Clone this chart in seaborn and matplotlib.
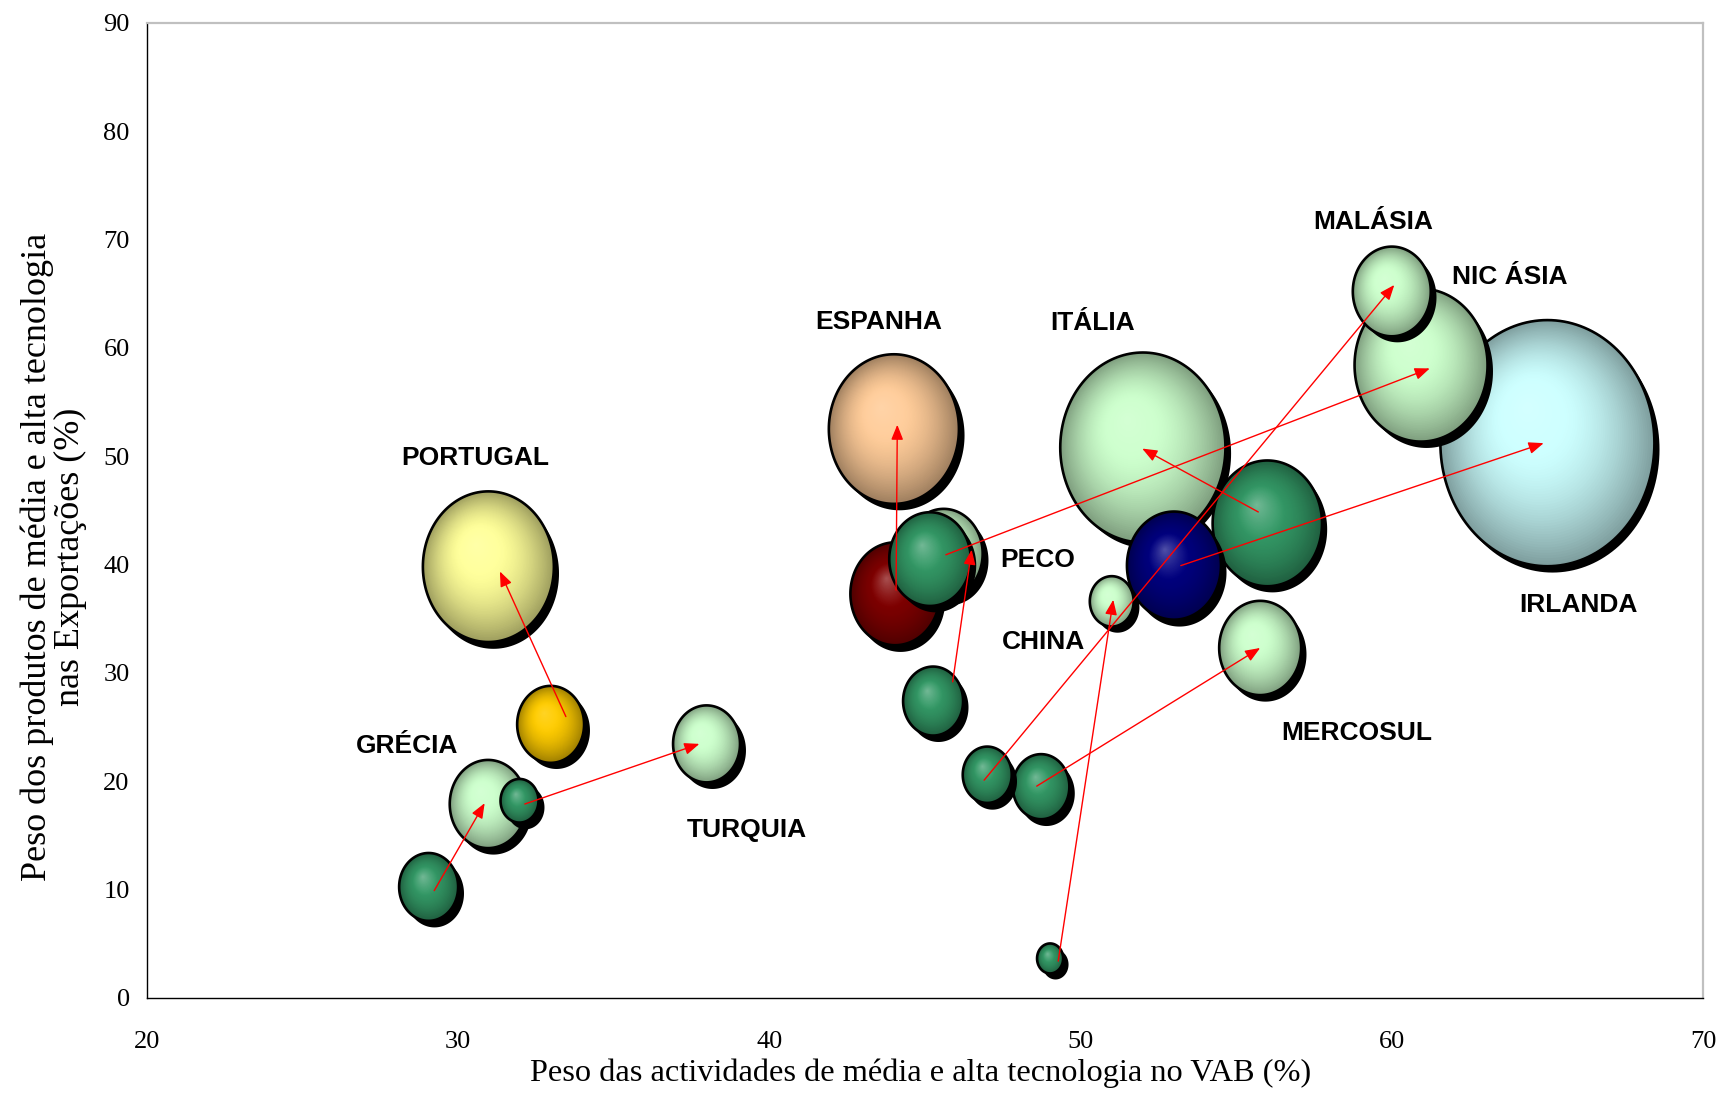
import numpy as np
import pandas as pd
import matplotlib
matplotlib.use("Agg")
import matplotlib.pyplot as plt
import matplotlib.colors as mcolors
from matplotlib.markers import MarkerStyle
from matplotlib.path import Path
from matplotlib.transforms import Affine2D, ScaledTranslation
import seaborn as sns

# ---------------- data (drawing order: back to front) ----------------
bubble_id = ["irl_end", "nic_end", "mal_end", "ita_end", "ita_start", "irl_start",
             "chn_end", "mer_end", "chn_start", "mer_start", "mal_start", "pec_start",
             "esp_end", "esp_start", "pec_end", "nic_start", "por_end", "por_start",
             "tur_end", "gre_end", "tur_start", "gre_start"]
bubble_x = [65.0, 60.94, 60.0, 52.0, 56.0, 53.0,
            51.0, 55.77, 49.02, 48.73, 47.0, 45.26,
            44.0, 44.04, 45.6, 45.16, 30.97, 32.97,
            37.98, 30.96, 31.97, 29.05]
bubble_y = [51.2, 58.4, 65.2, 50.8, 43.8, 39.9,
            36.6, 32.3, 3.65, 19.5, 20.6, 27.4,
            52.5, 37.3, 41.0, 40.5, 39.8, 25.25,
            23.45, 17.9, 18.2, 10.25]
bubble_size = [114.5, 44.2, 15.2, 68.2, 29.9, 22.1,
               4.8, 16.8, 1.7, 8.0, 6.0, 9.0,
               42.3, 20.0, 15.2, 16.6, 42.9, 11.2,
               11.2, 14.7, 3.6, 8.7]
bubble_color = ["#CCFFFF", "#CCFFCC", "#CCFFCC", "#CCFFCC", "#339966", "#000080",
                "#CCFFCC", "#CCFFCC", "#339966", "#339966", "#339966", "#339966",
                "#FFCC99", "#800000", "#CCFFCC", "#339966", "#FFFF99", "#FFCC00",
                "#CCFFCC", "#CCFFCC", "#339966", "#339966"]

label_text = ["PORTUGAL", "GRÉCIA", "TURQUIA", "ESPANHA", "ITÁLIA", "PECO",
              "CHINA", "MALÁSIA", "NIC ÁSIA", "IRLANDA", "MERCOSUL"]
label_x = [30.54, 28.35, 39.26, 43.51, 50.38, 48.63, 48.82, 59.40, 63.80, 66.00, 58.88]
label_y = [49.2, 22.6, 14.9, 61.7, 61.6, 39.8, 32.2, 70.95, 65.9, 35.66, 23.8]

arrow_x0 = [33.46, 29.23, 32.14, 44.07, 45.67, 45.89, 46.90, 48.59, 49.28, 55.71, 53.22]
arrow_y0 = [25.97, 9.91, 17.90, 37.64, 40.90, 29.18, 20.10, 19.55, 3.40, 44.85, 39.90]
arrow_x1 = [31.34, 30.85, 37.75, 44.11, 61.22, 46.50, 60.08, 55.77, 51.05, 51.98, 64.88]
arrow_y1 = [39.36, 17.98, 23.45, 52.90, 58.10, 41.37, 65.80, 32.30, 36.75, 50.70, 51.20]

x_ticks = [20, 30, 40, 50, 60, 70]
y_ticks = [0, 10, 20, 30, 40, 50, 60, 70, 80, 90]
x_label = "Peso das actividades de média e alta tecnologia no VAB (%)"
y_label = "Peso dos produtos de média e alta tecnologia\nnas Exportações (%)"

# ---------------- style ----------------
sns.set_theme(style="white")
plt.rcParams["font.family"] = ["Liberation Serif", "DejaVu Serif"]

DPI = 100
fig = plt.figure(figsize=(17.22, 10.93), dpi=DPI)
ax = fig.add_axes([147 / 1722, 1 - 998 / 1093, (1703 - 147) / 1722, (998 - 22.7) / 1093])
ax.set_xlim(20, 70)
ax.set_ylim(0, 90)

K = 274.3
VMAX = 120.0
ASPECT = 1.15
N_LAYERS = 60
HX, HY = -0.085, 0.15

theta = np.linspace(0, 2 * np.pi, 161)
ell_path = Path(np.column_stack([np.cos(theta) / ASPECT, np.sin(theta)]), closed=True)
base_ms = MarkerStyle(ell_path)

fs = np.linspace(1.0, 0.02, N_LAYERS)
keys = [f"L{k:02d}" for k in range(N_LAYERS)]
layer_markers = {k: MarkerStyle(ell_path, transform=Affine2D().scale(f).translate((1 - f) * HX, (1 - f) * HY))
                 for k, f in zip(keys, fs)}


def is_dark(c):
    r, g, b = mcolors.to_rgb(c)
    return (0.3 * r + 0.59 * g + 0.11 * b) < 0.6


def layer_color(base, t, hl):
    b = np.array(mcolors.to_rgb(base))
    light = hl * np.clip(1 - t / 0.45, 0, 1) ** 1.2
    dark = 0.38 * np.clip((t - 0.3) / 0.7, 0, 1) ** 1.6
    c = b * (1 - light) + light
    return tuple(np.clip(c * (1 - dark), 0, 1))


shadow_tr = ax.transData + ScaledTranslation(5 / DPI, -6 / DPI, fig.dpi_scale_trans)

for i in range(len(bubble_id)):
    z = 2 + i * 0.01
    hl = 0.32 if is_dark(bubble_color[i]) else 0.15
    df = pd.DataFrame({"x": [bubble_x[i]] * N_LAYERS, "y": [bubble_y[i]] * N_LAYERS,
                       "v": [bubble_size[i]] * N_LAYERS, "layer": keys})
    pal = {k: layer_color(bubble_color[i], f, hl) for k, f in zip(keys, fs)}
    ax.scatter([bubble_x[i]], [bubble_y[i]], s=[K * bubble_size[i]], marker=base_ms,
               color="black", linewidths=0, transform=shadow_tr, zorder=z)
    sns.scatterplot(data=df, x="x", y="y", size="v", sizes=(0, K * VMAX), size_norm=(0, VMAX),
                    hue="layer", palette=pal, style="layer", markers=layer_markers,
                    linewidth=0, edgecolor="none", legend=False, ax=ax, zorder=z + 0.002)
    ax.scatter([bubble_x[i]], [bubble_y[i]], s=[K * bubble_size[i]], marker=base_ms,
               facecolors="none", edgecolors="black", linewidths=1.9, zorder=z + 0.004)

for x0, y0, x1, y1 in zip(arrow_x0, arrow_y0, arrow_x1, arrow_y1):
    ax.annotate("", xy=(x1, y1), xytext=(x0, y0),
                arrowprops=dict(arrowstyle="-|>,head_length=0.45,head_width=0.18",
                                color="#FF0000", lw=1.0, mutation_scale=20,
                                shrinkA=0, shrinkB=0), zorder=10)

for t, x, y in zip(label_text, label_x, label_y):
    ax.text(x, y, t, ha="center", va="baseline", fontsize=19, fontweight="bold",
            family=["Liberation Sans", "DejaVu Sans"], color="black", zorder=11)

# ---------------- axes ----------------
ax.set_xticks(x_ticks)
ax.set_yticks(y_ticks)
ax.tick_params(axis="both", direction="out", length=6.5, width=1.0, color="black",
               labelsize=19, labelcolor="black")
ax.tick_params(axis="x", pad=17.5)
ax.tick_params(axis="y", pad=6)
for s in ["left", "bottom"]:
    ax.spines[s].set_color("black")
    ax.spines[s].set_linewidth(1.0)
for s in ["top", "right"]:
    ax.spines[s].set_color("#C0C0C0")
    ax.spines[s].set_linewidth(1.6)
ax.grid(False)
ax.set_facecolor("white")

ax.set_xlabel(x_label, fontsize=23.3, color="black")
ax.xaxis.set_label_coords(0.497, -0.0769)
ax.xaxis.label.set_verticalalignment("center")
ax.set_ylabel(y_label, fontsize=26, color="black", linespacing=1.0)
ax.yaxis.set_label_coords(-0.0598, 0.452)
ax.yaxis.label.set_verticalalignment("center")

fig.savefig("out.png", dpi=DPI, facecolor="white")
